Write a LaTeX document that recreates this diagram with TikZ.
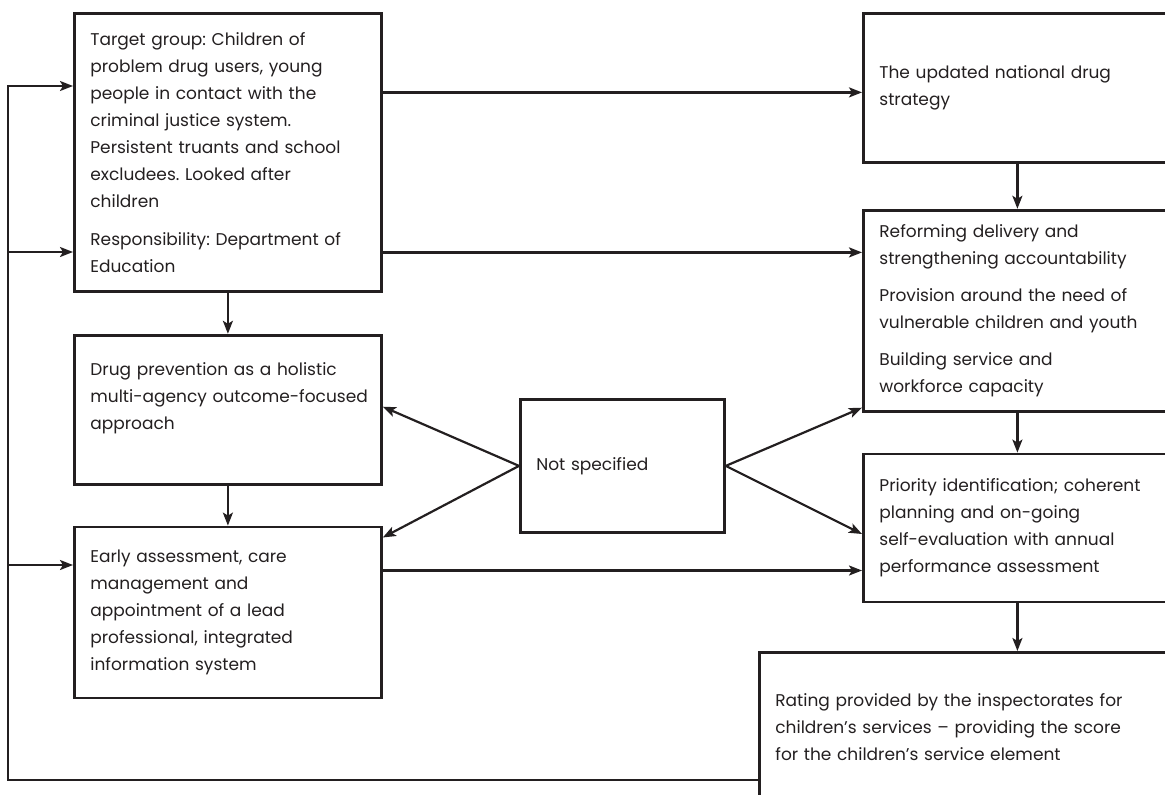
\documentclass[tikz,border=0pt]{standalone}
\usepackage{fontspec}
\setmainfont{Poppins}
\usetikzlibrary{arrows.meta,positioning}
\definecolor{ink}{HTML}{231F20}
\frenchspacing

\begin{document}
\begin{tikzpicture}[
  x=1pt, y=1pt,
  font=\fontsize{17}{27}\selectfont,
  box/.style={draw=ink, text=ink, line width=2.8pt, align=left, inner xsep=16pt, inner ysep=0pt},
  arr/.style={-{Stealth[length=13pt,width=10pt,inset=3pt]}, line width=2.2pt, draw=ink}
]
\clip (0,0) rectangle (1165,-795);
% left column
\node[box, anchor=north west, text width=275pt, minimum height=278pt] (target) at (73,-12)
  {Target group: Children of\\ problem drug users, young\\ people in contact with the\\ criminal justice system.\\
   Persistent truants and school\\ excludees. Looked after\\ children\\[11pt]
   Responsibility: Department of\\ Education};
\node[box, text width=275pt, minimum height=149pt, below=41pt of target] (holistic)
  {Drug prevention as a holistic\\ \mbox{multi-agency outcome-focused}\\ approach\rule[-28pt]{0pt}{0pt}};
\node[box, text width=275pt, minimum height=171pt, below=40pt of holistic] (early)
  {Early assessment, care\\ management and\\ appointment of a lead\\ professional, integrated\\ information system};
% middle
\node[box, anchor=north west, text width=172pt, minimum height=133pt] (notspec) at (519,-398) {Not specified};
% right column
\node[box, anchor=north west, text width=276pt, minimum height=149pt] (strategy) at (862,-12)
  {The updated national drug\\ strategy};
\node[box, text width=276pt, minimum height=201pt, below=45pt of strategy] (reform)
  {Reforming delivery and\\ strengthening accountability\\[10pt]
   Provision around the need of\\ vulnerable children and youth\\[10pt]
   Building service and\\ workforce capacity};
\node[box, text width=276pt, minimum height=148pt, below=40pt of reform] (priority)
  {Priority identification; coherent\\ planning and on-going\\ self-evaluation with annual\\ performance assessment};
\node[box, anchor=north west, text width=380pt, minimum height=150pt] (rating) at (758,-651)
  {Rating provided by the inspectorates for\\ children’s services – providing the score\\ for the children’s service element};

% feedback loop on the left
\coordinate (fbot) at (8,-780);
\coordinate (ftop) at (8,-86);
\coordinate (fmid) at (8,-252);
\coordinate (flow) at (8,-565);
\draw[arr] (rating.west |- fbot) -- (fbot) -- (ftop) -- (ftop -| target.west);
\draw[arr] (fmid) -- (fmid -| target.west);
\draw[arr] (flow) -- (flow -| early.west);

\draw[arr] (target) -- (holistic);
\draw[arr] (holistic) -- (early);
\draw[arr] ([yshift=60pt]target.east) -- ([yshift=60pt]target.east -| strategy.west);
\draw[arr] ([yshift=-100pt]target.east) -- ([yshift=-100pt]target.east -| reform.west);
\draw[arr] ([yshift=42pt]early.east) -- ([yshift=42pt]early.east -| priority.west);

\draw[arr] (notspec.west) -- ([yshift=3pt]holistic.east);
\draw[arr] (notspec.west) -- ([yshift=75pt]early.east);
\draw[arr] (notspec.east) -- ([yshift=-97pt]reform.west);
\draw[arr] (notspec.east) -- ([yshift=-6pt]priority.west);

\draw[arr] (strategy) -- (reform);
\draw[arr] (reform) -- (priority);
\draw[arr] (priority.south) -- (priority.south |- rating.north);
\end{tikzpicture}
\end{document}
